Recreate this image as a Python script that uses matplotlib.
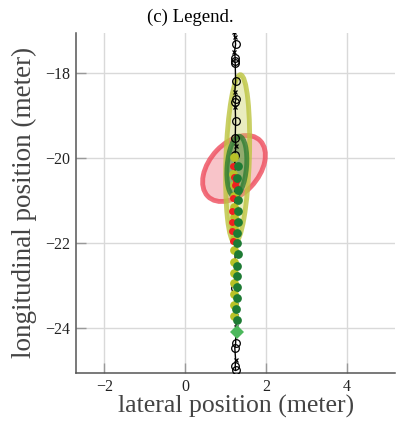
import matplotlib
matplotlib.use('Agg')
import matplotlib.pyplot as plt
from matplotlib.patches import Ellipse

plt.rcParams['font.family'] = ['Liberation Serif', 'DejaVu Serif']

# ground-truth trajectory markers
traj_o_x = [1.25, 1.24, 1.23, 1.24, 1.25, 1.26, 1.24, 1.25, 1.24, 1.23,
            1.24, 1.25, 1.23, 1.24, 1.25]
traj_o_y = [-17.33, -17.65, -17.73, -17.78, -18.2, -18.61, -18.68, -19.13,
            -19.54, -19.93, -23.07, -24.36, -24.48, -24.9, -25.0]
traj_x_x = [1.22, 1.23, 1.22, 1.23, 1.24, 1.26, 1.27, 1.27, 1.26, 1.25]
traj_x_y = [-17.05, -17.15, -17.52, -18.44, -18.8, -19.73, -23.46, -23.73,
            -23.97, -24.75]

# estimated positions
green_x = [1.30, 1.29, 1.30, 1.31, 1.31, 1.30, 1.29, 1.29, 1.30, 1.29,
           1.28, 1.29, 1.28, 1.27, 1.28]
green_y = [-20.2, -20.47, -20.75, -20.99, -21.26, -21.5, -21.76, -22.0,
           -22.26, -22.54, -22.79, -23.04, -23.3, -23.56, -23.81]
yellow_x = [1.2, 1.19, 1.2, 1.21, 1.21, 1.22, 1.21, 1.22, 1.21, 1.2,
            1.21, 1.2, 1.21, 1.2, 1.21]
yellow_y = [-19.97, -20.38, -20.65, -20.9, -21.15, -21.4, -21.65, -21.9,
            -22.17, -22.45, -22.7, -22.95, -23.2, -23.47, -23.72]
red_x = [1.18, 1.22, 1.26, 1.24, 1.28, 1.18, 1.16, 1.17, 1.17, 1.18]
red_y = [-20.2, -20.45, -20.55, -20.65, -20.72, -20.94, -21.25, -21.5,
         -21.72, -21.95]
goal_x = [1.28]
goal_y = [-24.09]

# uncertainty ellipses: (cx, cy, width, height, angle)
red_ell = (1.21, -20.25, 1.84, 1.2, 45)
yellow_ell = (1.3, -20.02, 0.58, 3.95, -2)
green_ell = (1.28, -20.2, 0.48, 1.42, -5)

fig = plt.figure(figsize=(3.96, 4.21), dpi=100)
ax = fig.add_axes([0.192, 0.114, 0.806, 0.808])

for (cx, cy, w, h, a), fc, ec, fa in [
        (red_ell, '#f28b95', '#ee4c5c', 0.5),
        (yellow_ell, '#c9d060', '#bcc43e', 0.4),
        (green_ell, '#3f8f3f', '#2f7d32', 0.5)]:
    ax.add_patch(Ellipse((cx, cy), w, h, angle=a, facecolor=fc, alpha=fa,
                         edgecolor='none', zorder=2))
    ax.add_patch(Ellipse((cx, cy), w, h, angle=a, facecolor='none',
                         edgecolor=ec, alpha=0.8, lw=3.5, zorder=2))

pts = sorted(zip(traj_o_x + traj_x_x, traj_o_y + traj_x_y), key=lambda p: -p[1])
ax.plot([p[0] for p in pts], [p[1] for p in pts], color='black', lw=1,
        zorder=3)
ax.plot(traj_o_x, traj_o_y, 'o', mfc='none', mec='black', ms=5.5, mew=0.9,
        zorder=4)
ax.plot(traj_x_x, traj_x_y, 'x', color='black', ms=3.5, mew=0.9, zorder=4)

ax.plot(yellow_x, yellow_y, 'o', color='#b8c227', ms=6.3, mew=0, zorder=5)
ax.plot(red_x, red_y, 'o', color='#ee2020', ms=5, mew=0, zorder=5)
ax.plot(green_x, green_y, 'o', color='#1e7b34', ms=6.3, mew=0, zorder=6)
ax.plot(goal_x, goal_y, 'D', color='#4cb85c', ms=7.5, mew=0, zorder=7)

ax.set_xlim(-2.7, 5.2)
ax.set_ylim(-25.06, -17.06)
ax.set_xticks([-2, 0, 2, 4])
ax.set_yticks([-24, -22, -20, -18])
ax.grid(True, color='#d9d9d9', lw=1)
ax.set_axisbelow(True)
for s in ['top', 'right']:
    ax.spines[s].set_visible(False)
for s in ['left', 'bottom']:
    ax.spines[s].set_color('#555555')
    ax.spines[s].set_linewidth(1.1)
ax.tick_params(direction='in', length=7, width=1, color='#999999',
               labelsize=11.5, labelcolor='#222222', pad=4)

ax.set_xlabel('lateral position (meter)', fontsize=18.5, color='#444444',
              labelpad=0)
ax.set_ylabel('longitudinal position (meter)', fontsize=19.5, color='#444444',
              labelpad=6)
fig.text(190 / 396, 1 - 17 / 421, '(c) Legend.', ha='center', va='center',
         fontsize=13.5)

fig.savefig('out.png', dpi=100)
